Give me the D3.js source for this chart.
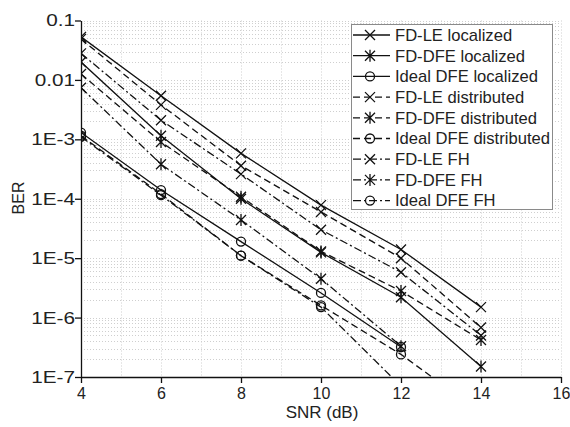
<!DOCTYPE html>
<html>
<head>
<meta charset="utf-8">
<script src="https://cdn.jsdelivr.net/npm/d3@7"></script>
<style>
  body { margin: 0; background: #fff; }
  svg { display: block; font-family: "Liberation Sans", Arial, sans-serif; }
</style>
</head>
<body>
<svg width="570" height="427"></svg>
<script>
/* BER vs SNR */
var snr = [4, 6, 8, 10, 12, 14];

var feLeLocalized    = [0.053, 5.4e-3, 5.8e-4, 7.8e-5, 1.4e-5, 1.5e-6];
var fdDfeLocalized   = [0.020, 1.15e-3, 1.0e-4, 1.25e-5, 2.2e-6, 1.5e-7];
var idealLocalized   = [1.3e-3, 1.4e-4, 1.9e-5, 2.6e-6, 3.2e-7, null];
var feLeDistributed  = [0.049, 3.8e-3, 3.6e-4, 6.0e-5, 1.0e-5, 6.8e-7];
var fdDfeDistributed = [0.0126, 9.0e-4, 1.08e-4, 1.3e-5, 2.8e-6, 4.2e-7];
var idealDistributed = [1.15e-3, 1.2e-4, 1.1e-5, 1.6e-6, 2.4e-7, 2.5e-8];
var feLeFh           = [0.028, 2.1e-3, 2.6e-4, 3.0e-5, 5.8e-6, 5.0e-7];
var fdDfeFh          = [0.0074, 3.8e-4, 4.4e-5, 4.5e-6, 3.3e-7, null];
var idealFh          = [1.1e-3, 1.15e-4, 1.1e-5, 1.5e-6, 7e-8, null];

var seriesNames = [
  "FD-LE localized", "FD-DFE localized", "Ideal DFE localized",
  "FD-LE distributed", "FD-DFE distributed", "Ideal DFE distributed",
  "FD-LE FH", "FD-DFE FH", "Ideal DFE FH"
];

var xTickValues = [4, 6, 8, 10, 12, 14, 16];
var yTickValues = [1e-7, 1e-6, 1e-5, 1e-4, 1e-3, 0.01, 0.1];
var yTickLabels = ["1E-7", "1E-6", "1E-5", "1E-4", "1E-3", "0.01", "0.1"];

function berChart() {
  var svg = d3.select("svg");

  var left = 81, right = 561, top = 20.5, bottom = 377;

  var xScale = d3.scaleLinear().domain([4, 16]).range([left, right]);
  var yScale = d3.scaleLog().domain([1e-7, 0.1]).range([bottom, top]);

  var markerOf = ["x", "star", "circle"];
  var dashOf = [null, "7,4", "8,3,2,3"];

  var series = [feLeLocalized, fdDfeLocalized, idealLocalized,
                feLeDistributed, fdDfeDistributed, idealDistributed,
                feLeFh, fdDfeFh, idealFh].map(function(vals, i) {
    return {
      name: seriesNames[i],
      marker: markerOf[i % 3],
      dash: dashOf[Math.floor(i / 3)],
      points: snr.map((s, j) => ({ x: s, y: vals[j] }))
    };
  });

  function markerPath(type) {
    var s = 5;
    if (type === "x") {
      return `M${-s},${-s}L${s},${s}M${-s},${s}L${s},${-s}`;
    }
    if (type === "star") {
      return `M${-s},${-s}L${s},${s}M${-s},${s}L${s},${-s}M0,${-s - 1}L0,${s + 1}`;
    }
    return null;
  }

  function drawMarker(g, type, x, y) {
    if (type === "circle") {
      g.append("circle")
        .attr("cx", x).attr("cy", y).attr("r", 4.5)
        .attr("fill", "none").attr("stroke", "#111").attr("stroke-width", 1.3);
    } else {
      g.append("path")
        .attr("d", markerPath(type))
        .attr("transform", `translate(${x},${y})`)
        .attr("fill", "none").attr("stroke", "#111").attr("stroke-width", 1.3);
    }
  }

  // dotted grid
  var grid = svg.append("g")
    .attr("stroke", "#cfcfcf")
    .attr("stroke-width", 1)
    .attr("stroke-dasharray", "1,2");

  grid.selectAll(".gy")
    .data(yScale.ticks())
    .enter()
    .append("line")
      .attr("x1", left).attr("x2", right)
      .attr("y1", d => Math.round(yScale(d)) + 0.5)
      .attr("y2", d => Math.round(yScale(d)) + 0.5);

  grid.selectAll(".gx")
    .data(d3.range(5, 17))
    .enter()
    .append("line")
      .attr("x1", d => Math.round(xScale(d)) + 0.5)
      .attr("x2", d => Math.round(xScale(d)) + 0.5)
      .attr("y1", top).attr("y2", bottom);

  svg.append("clipPath")
      .attr("id", "plot-clip")
    .append("rect")
      .attr("x", left).attr("y", top)
      .attr("width", right - left).attr("height", bottom - top);

  var plot = svg.append("g").attr("clip-path", "url(#plot-clip)");

  var line = d3.line()
    .defined(d => d.y != null)
    .x(d => xScale(d.x))
    .y(d => yScale(d.y));

  series.forEach(function(s) {
    plot.append("path")
      .datum(s.points)
      .attr("d", line)
      .attr("fill", "none")
      .attr("stroke", "#111")
      .attr("stroke-width", 1.3)
      .attr("stroke-dasharray", s.dash);

    s.points.filter(d => d.y != null).forEach(function(d) {
      drawMarker(plot, s.marker, xScale(d.x), yScale(d.y));
    });
  });

  // axes
  var xAxis = d3.axisBottom(xScale)
    .tickValues(xTickValues)
    .tickSize(6)
    .tickSizeOuter(0)
    .tickPadding(5)
    .tickFormat(d3.format("d"));

  var xMinor = d3.axisBottom(xScale)
    .tickValues(d3.range(5, 16, 2))
    .tickSize(-4)
    .tickSizeOuter(0)
    .tickFormat("");

  var yAxis = d3.axisLeft(yScale)
    .tickValues(yTickValues)
    .tickSize(6)
    .tickSizeOuter(0)
    .tickFormat((d, i) => yTickLabels[i]);

  var yMinor = d3.axisLeft(yScale)
    .tickValues(yScale.ticks().filter(d => yTickValues.indexOf(d) < 0))
    .tickSize(-4)
    .tickSizeOuter(0)
    .tickFormat("");

  var gx = svg.append("g").attr("transform", `translate(0,${bottom})`);
  gx.call(xMinor);
  gx.call(xAxis);

  var gy = svg.append("g").attr("transform", `translate(${left},0)`);
  gy.call(yMinor);
  gy.call(yAxis);

  svg.selectAll(".domain, .tick line")
    .attr("stroke", "#111")
    .attr("stroke-width", 1.3);

  gx.selectAll("text")
    .attr("fill", "#222")
    .style("font-size", "16px")
    .style("font-family", "Liberation Sans, Arial, sans-serif");

  gy.selectAll("text")
    .attr("fill", "#222")
    .attr("x", -6 / 1.22)
    .attr("transform", "scale(1.22,1)")
    .style("font-size", "17px")
    .style("font-family", "Liberation Sans, Arial, sans-serif");

  svg.append("text")
    .text("SNR (dB)")
    .attr("x", (left + right) / 2 + 1)
    .attr("y", 418)
    .attr("fill", "#222")
    .style("text-anchor", "middle")
    .style("font-size", "17px");

  svg.append("text")
    .text("BER")
    .attr("transform", "translate(24,198) rotate(-90)")
    .attr("fill", "#222")
    .style("text-anchor", "middle")
    .style("font-size", "16px");

  // legend
  var legend = svg.append("g");

  legend.append("rect")
    .attr("x", 351.5).attr("y", 24.5)
    .attr("width", 201).attr("height", 185)
    .attr("fill", "#fff")
    .attr("stroke", "#8a8a8a")
    .attr("stroke-width", 1);

  var rows = legend.selectAll(".row")
    .data(series)
    .enter()
    .append("g")
      .attr("transform", (d, i) => `translate(0,${35 + i * 20.7})`);

  rows.append("line")
    .attr("x1", 353).attr("x2", 390)
    .attr("y1", 0).attr("y2", 0)
    .attr("stroke", "#111")
    .attr("stroke-width", 1.3)
    .attr("stroke-dasharray", d => d.dash);

  rows.each(function(d) {
    drawMarker(d3.select(this), d.marker, 370, 0);
  });

  rows.append("text")
    .text(d => d.name)
    .attr("x", 395)
    .attr("y", 0)
    .attr("dy", "0.35em")
    .attr("fill", "#222")
    .style("font-size", "16.6px");
}

berChart();
</script>
</body>
</html>
